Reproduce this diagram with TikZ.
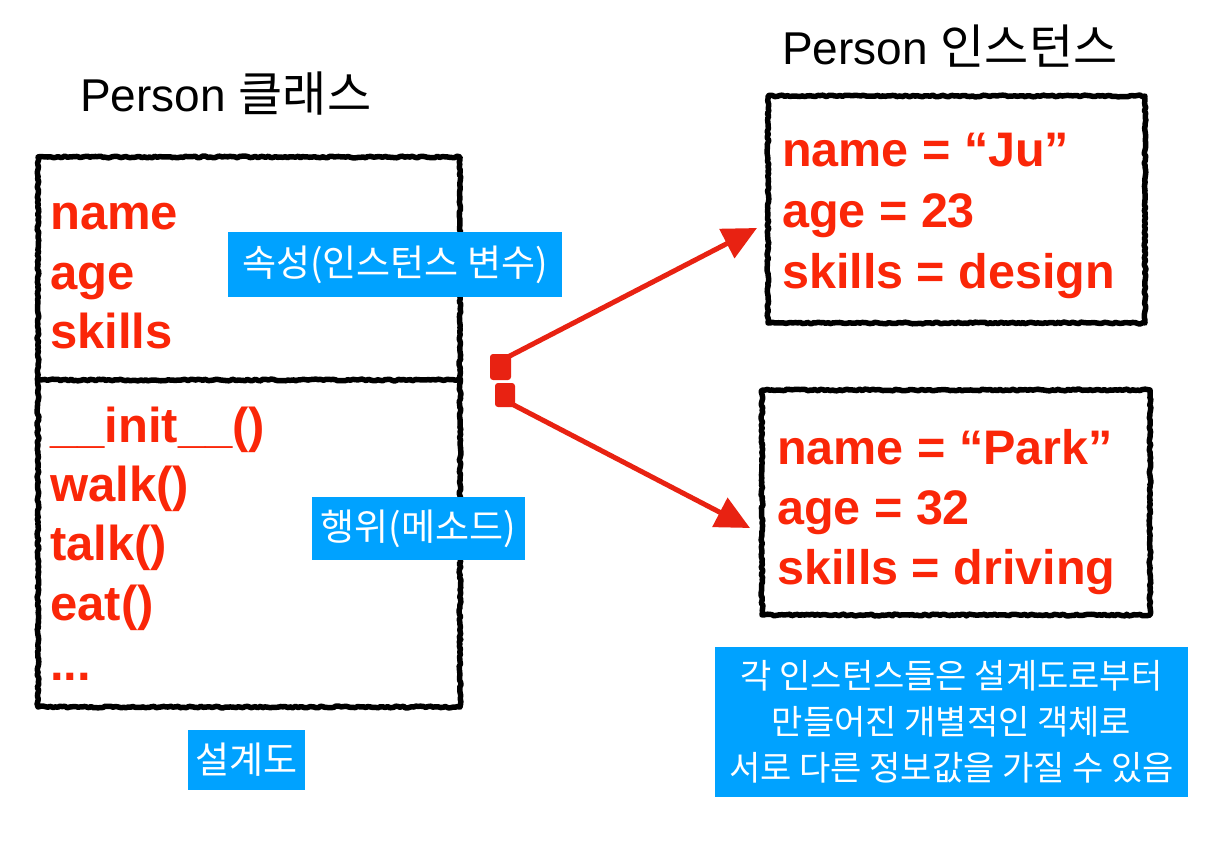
\documentclass[tikz,border=0pt]{standalone}
\usepackage{fontspec}
\setmainfont{Liberation Sans}
\newfontfamily\kr{Noto Sans CJK KR}
\usetikzlibrary{decorations.pathmorphing,arrows.meta}
\definecolor{txtred}{RGB}{250,38,8}
\definecolor{arrred}{RGB}{232,34,18}
\definecolor{lblue}{RGB}{0,162,255}
\begin{document}
\begin{tikzpicture}[x=1pt,y=-1pt,
  sketch/.style={draw=black, line width=5.5pt, line join=round, decorate,
    decoration={random steps, segment length=2.5pt, amplitude=0.9pt}},
  fieldL/.style={anchor=base west, text=txtred, font=\fontsize{49}{49}\selectfont\bfseries, inner sep=0pt},
  fieldR/.style={anchor=base west, text=txtred, font=\fontsize{48.5}{48.5}\selectfont\bfseries, inner sep=0pt},
  ttl/.style={anchor=base west, font=\fontsize{46}{46}\selectfont, inner sep=0pt},
  lbl/.style={fill=lblue, text=white, font=\kr\fontsize{37}{37}\selectfont, inner sep=0pt, anchor=center},
  redsq/.style={fill=arrred, rounded corners=3pt, inner sep=0pt},
  arr/.style={draw=arrred, line width=5pt, -{Triangle[length=34pt,width=32pt]}}
]
\useasboundingbox (0,0) rectangle (1220,850);

% titles
\node[ttl] (t1) at (80,112) {Person {\kr\fontsize{48}{48}\selectfont 클래스}};
\node[ttl] (t2) at (782,65) {Person {\kr\fontsize{48}{48}\selectfont 인스턴스}};

% left class box
\draw[sketch] (38,157) rectangle (460,707);
\draw[sketch] (38,380) -- (460,380);

\node[fieldL] (fname) at (50,230) {name};
\node[fieldL] (fage) at (50,290) {age};
\node[fieldL] (fskills) at (50,348) {skills};
\node[fieldL] (minit) at (50,442) {\_\_init\_\_()};
\node[fieldL] (mwalk) at (50,501) {walk()};
\node[fieldL] (mtalk) at (50,560) {talk()};
\node[fieldL] (meat) at (50,620) {eat()};
\node[fieldL] (mdots) at (50,680) {...};

% labels
\node[lbl, minimum width=334pt, minimum height=65pt] (lattr) at (395,264.5) {속성(인스턴스 변수)};
\node[lbl, minimum width=213pt, minimum height=63pt] (lmeth) at (418.5,528.5) {행위(메소드)};
\node[lbl, minimum width=117pt, minimum height=60pt] (lbp) at (246.5,760) {설계도};

% instance boxes
\draw[sketch] (768,96) rectangle (1145,323);
\node[fieldR] (i1name) at (782,167) {name = “Ju”};
\node[fieldR] (i1age) at (782,228) {age = 23};
\node[fieldR] (i1sk) at (782,288) {skills = design};

\draw[sketch] (762,390) rectangle (1150,615);
\node[fieldR] (i2name) at (777,464) {name = “Park”};
\node[fieldR] (i2age) at (777,524) {age = 32};
\node[fieldR] (i2sk) at (777,584) {skills = driving};

% note
\node[fill=lblue, text=white, font=\kr\fontsize{34}{46}\selectfont, align=center,
  minimum width=473pt, minimum height=150pt, inner sep=0pt] (note) at (951.5,722)
  {각 인스턴스들은 설계도로부터\\만들어진 개별적인 객체로\\서로 다른 정보값을 가질 수 있음};

% red squares and arrows
\node[redsq, minimum width=21pt, minimum height=26pt] (sq1) at (500.5,367) {};
\node[redsq, minimum width=20pt, minimum height=24pt] (sq2) at (505,395) {};
\coordinate (tip1) at (757,228);
\coordinate (tip2) at (750,528);
\draw[arr] (sq1.north east) ++(-3,3) coordinate (s1) (s1) -- (tip1);
\draw[arr] (sq2.south east) ++(-3,-3) coordinate (s2) (s2) -- (tip2);
\end{tikzpicture}
\end{document}
